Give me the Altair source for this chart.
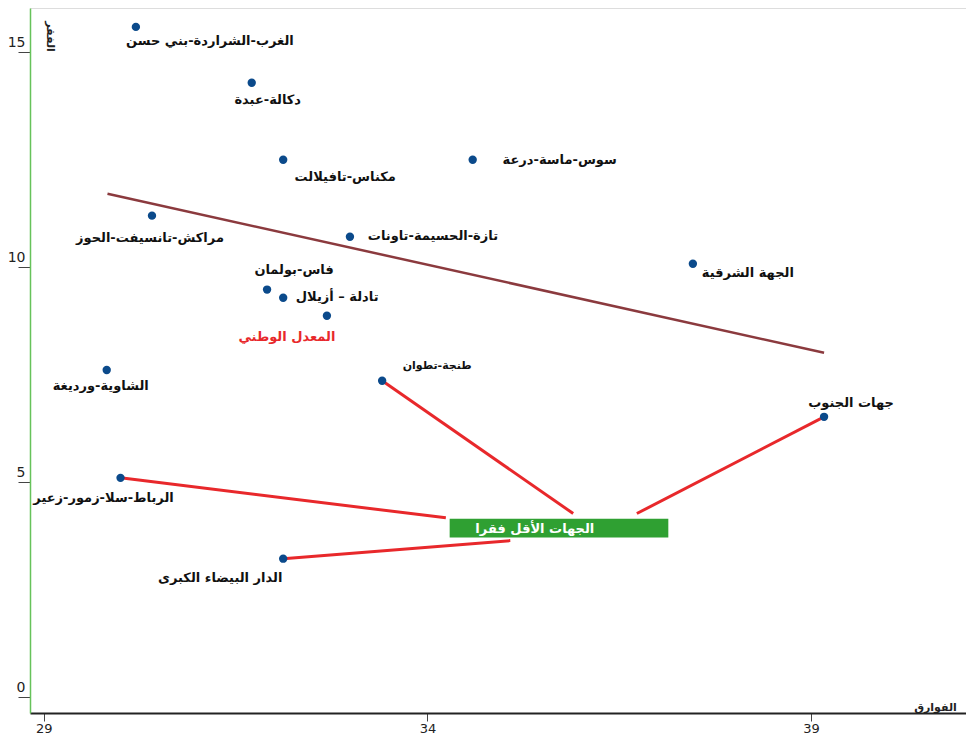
import altair as alt
import pandas as pd

# ---- data ----
regions = [
    "الغرب-الشراردة-بني حسن", "دكالة-عبدة", "مكناس-تافيلالت", "سوس-ماسة-درعة",
    "مراكش-تانسيفت-الحوز", "تازة-الحسيمة-تاونات", "الجهة الشرقية", "فاس-بولمان",
    "تادلة – أزيلال", "المعدل الوطني", "الشاوية-ورديغة", "طنجة-تطوان",
    "جهات الجنوب", "الرباط-سلا-زمور-زعير", "الدار البيضاء الكبرى",
]
inequality = [30.20, 31.71, 32.12, 34.59, 30.41, 32.99, 37.46, 31.91,
              32.12, 32.69, 29.82, 33.41, 39.17, 30.00, 32.12]
poverty = [15.58, 14.28, 12.49, 12.49, 11.19, 10.70, 10.07, 9.47,
           9.28, 8.86, 7.60, 7.35, 6.51, 5.09, 3.21]

# regression line end points
trend_x = [29.83, 39.17]
trend_y = [11.70, 8.00]

# highlighted box ("least poor regions")
box_label = "الجهات الأقل فقرا"
box_x = [34.29, 37.14]
box_y = [3.70, 4.14]
box_text_pos = [35.40, 3.90]

# connector lines: from region to box
conn_from = ["طنجة-تطوان", "جهات الجنوب", "الرباط-سلا-زمور-زعير", "الدار البيضاء الكبرى"]
conn_end_x = [35.90, 36.73, 34.24, 35.08]
conn_end_y = [4.26, 4.26, 4.16, 3.63]

x_ticks = [29, 34, 39]
y_ticks = [0, 5, 10, 15]

# ---- label placement (pixel offsets, style only) ----
label_offsets = {
    "الغرب-الشراردة-بني حسن": (74, 14),
    "دكالة-عبدة": (16, 17),
    "مكناس-تافيلالت": (62, 17),
    "سوس-ماسة-درعة": (87, 0),
    "مراكش-تانسيفت-الحوز": (-2, 22),
    "تازة-الحسيمة-تاونات": (83, -1),
    "الجهة الشرقية": (55, 9),
    "فاس-بولمان": (27, -20),
    "تادلة – أزيلال": (54, -1),
    "المعدل الوطني": (-40, 21),
    "الشاوية-ورديغة": (-6, 16),
    "طنجة-تطوان": (55, -15),
    "جهات الجنوب": (27, -14),
    "الرباط-سلا-زمور-زعير": (-17, 20),
    "الدار البيضاء الكبرى": (-63, 19),
}

FONT = "DejaVu Sans"

df = pd.DataFrame({"region": regions, "x": inequality, "y": poverty})

xscale = alt.Scale(domain=[28.82, 41.02], nice=False, zero=False)
yscale = alt.Scale(domain=[-0.38, 16.02], nice=False, zero=False)

X = alt.X("x:Q", scale=xscale, axis=alt.Axis(
    values=x_ticks, format="d", title="الفوارق", grid=False, domainColor="#222222", domainWidth=2,
    tickColor="#444444", tickSize=8, labelFont=FONT, labelFontSize=13, labelColor="#222222",
    labelPadding=1, titleFont=FONT, titleFontSize=11, titleFontWeight="bold",
    titleX=905, titleY=-12, titleAlign="center", titleColor="#222222"))
Y = alt.Y("y:Q", scale=yscale, axis=alt.Axis(
    values=y_ticks, format="d", title="الفقر", grid=False, domainColor="#66c25a", domainWidth=1.5,
    tickColor="#444444", tickSize=12, labelFont=FONT, labelFontSize=14, labelColor="#222222",
    labelPadding=-7, labelBaseline="alphabetic", labelOffset=-5,
    titleFont=FONT, titleFontSize=11, titleFontWeight="bold", titleAngle=90,
    titleX=14, titleY=28, titleAlign="center", titleColor="#222222"))

base = alt.Chart(df)

points = base.mark_point(filled=True, size=70, color="#0b4a8b", opacity=1).encode(x=X, y=Y)

# trend line
trend_df = pd.DataFrame({"x": [trend_x[0]], "y": [trend_y[0]], "x2": [trend_x[1]], "y2": [trend_y[1]]})
trend = alt.Chart(trend_df).mark_rule(color="#8b3a3e", strokeWidth=2.5).encode(
    x=alt.X("x:Q", scale=xscale), y=alt.Y("y:Q", scale=yscale), x2="x2:Q", y2="y2:Q")

# connectors
pt = dict(zip(regions, zip(inequality, poverty)))
conn_df = pd.DataFrame({
    "x": [pt[r][0] for r in conn_from], "y": [pt[r][1] for r in conn_from],
    "x2": conn_end_x, "y2": conn_end_y})
connectors = alt.Chart(conn_df).mark_rule(color="#e8282b", strokeWidth=3).encode(
    x=alt.X("x:Q", scale=xscale), y=alt.Y("y:Q", scale=yscale), x2="x2:Q", y2="y2:Q")

# box
box_df = pd.DataFrame({"x": [box_x[0]], "x2": [box_x[1]], "y": [box_y[0]], "y2": [box_y[1]]})
box = alt.Chart(box_df).mark_rect(color="#2fa032").encode(
    x=alt.X("x:Q", scale=xscale), x2="x2:Q", y=alt.Y("y:Q", scale=yscale), y2="y2:Q")
box_txt_df = pd.DataFrame({"x": [box_text_pos[0]], "y": [box_text_pos[1]], "t": [box_label]})
box_text = alt.Chart(box_txt_df).mark_text(
    color="white", font=FONT, fontSize=13, fontWeight="bold", align="center", baseline="middle").encode(
    x=alt.X("x:Q", scale=xscale), y=alt.Y("y:Q", scale=yscale), text="t:N")

# labels: one layer per label (offset is style)
label_layers = []
for r in regions:
    dx, dy = label_offsets[r]
    color = "#e8282b" if r == "المعدل الوطني" else "#111111"
    fs = 11 if r == "طنجة-تطوان" else 13
    label_layers.append(
        alt.Chart(df[df.region == r]).mark_text(
            font=FONT, fontSize=fs, fontWeight="bold", color=color,
            align="center", baseline="middle", dx=dx, dy=dy).encode(
            x=alt.X("x:Q", scale=xscale), y=alt.Y("y:Q", scale=yscale), text="region:N"))

chart = alt.layer(trend, connectors, box, box_text, points, *label_layers).properties(
    width=936, height=705,
    autosize=alt.AutoSizeParams(type="none"),
    padding={"left": 22, "top": 0, "right": 0, "bottom": 26},
).configure_view(stroke=None).configure(background="white")

chart.save("out.html", embed_options={"renderer": "svg", "actions": False})
